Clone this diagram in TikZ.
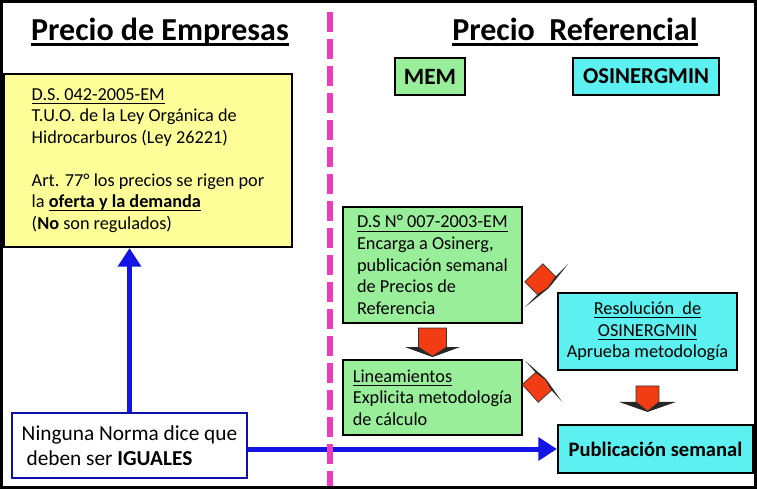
\documentclass[tikz,border=0pt]{standalone}
\usepackage{fontspec}
\setmainfont{Carlito}
\usetikzlibrary{arrows.meta,positioning,calc}
\definecolor{lawyellow}{HTML}{FFFF99}
\definecolor{memgreen}{HTML}{99EE99}
\definecolor{osicyan}{HTML}{5CF0F0}
\definecolor{arrowred}{HTML}{F23C14}
\definecolor{sepmagenta}{HTML}{EB3CBE}
\definecolor{normblue}{HTML}{1414E6}
\newcommand{\bodyfont}{\fontsize{13.7pt}{16.2pt}\selectfont}
\newcommand{\undl}[1]{\leavevmode\setbox0\hbox{#1}\rlap{\rule[-2.6pt]{\wd0}{0.7pt}}\box0}
\newcommand{\titleul}[1]{\leavevmode\setbox0\hbox{#1}\rlap{\rule[-4.8pt]{\wd0}{2.3pt}}\box0}

\begin{document}
\begin{tikzpicture}[
      x=0.75pt, y=-0.75pt,
      box/.style={draw=black, line width=1.6pt, font=\bodyfont, inner sep=0pt},
      lawbox/.style={box, fill=lawyellow, align=left},
      membox/.style={box, fill=memgreen},
      osibox/.style={box, fill=osicyan},
      titletext/.style={font=\fontsize{24pt}{28pt}\selectfont\bfseries, anchor=base},
      bluearrow/.style={draw=normblue, line width=3.75pt, -{Triangle[length=14pt,width=17pt]}},
      sepline/.style={draw=sepmagenta, line width=4.2pt, dash pattern=on 15pt off 5.25pt},
      shaftw/.store in=\shaftw, shaftl/.store in=\shaftl,
      headw/.store in=\headw, headh/.store in=\headh,
      shaftw=9.5pt, shaftl=13pt, headw=21pt, headh=7.5pt,
      redarrow/.pic={
        \fill[black!85] (-\headw,\headh) -- (\headw,\headh) -- (0pt,0pt) -- cycle;
        \filldraw[fill=arrowred, draw=black!80, line width=0.5pt]
          (-\shaftw,\headh+\shaftl) -- (\shaftw,\headh+\shaftl) -- (\shaftw,\headh)
          -- (0pt,0.6pt) -- (-\shaftw,\headh) -- cycle;
      }
  ]
  \useasboundingbox (0,0) rectangle (757,489);
  \draw[line width=2.2pt] (1.5,1.5) rectangle (755.5,487.5);

  % Titles
  \node[titletext] (empt) at (160,40) {\titleul{Precio de Empresas}};
  \node[titletext] (reft) at (575,40) {\titleul{Precio\ \ Referencial}};

  % Nodes
  \node[lawbox, minimum width=216pt, minimum height=129.75pt] (law) at (148,160.5)
    {\undl{D.S. 042-2005-EM}\\
     T.U.O. de la Ley Orgánica de\\
     Hidrocarburos (Ley 26221)\\[16pt]
     Art. 77° los precios se rigen por\\
     la \undl{\textbf{oferta y la demanda}}\\
     (\textbf{No} son regulados)};
  \node[membox, minimum width=52.5pt, minimum height=27.75pt,
        font=\fontsize{17.5pt}{20pt}\selectfont\bfseries] (mem) at (430,76.5) {MEM};
  \node[osibox, minimum width=109.5pt, minimum height=27.75pt,
        font=\fontsize{17pt}{20pt}\selectfont\bfseries] (osi) at (646,76.5) {OSINERGMIN};
  \node[membox, align=left, minimum width=134.25pt, minimum height=87pt] (ds) at (432.5,265)
    {\undl{D.S N° 007-2003-EM}\\
     Encarga a Osinerg,\\
     publicación semanal\\
     de Precios de\\
     Referencia};
  \node[membox, align=left, minimum width=134.25pt, minimum height=56.25pt,
        below=26.25pt of ds] (lin)
    {\undl{Lineamientos}\\
     Explicita metodología\\
     de cálculo};
  \node[osibox, align=center, minimum width=134.25pt, minimum height=57.75pt] (res) at (647.5,331.5)
    {\undl{Resolución\ \ de}\\
     \undl{OSINERGMIN}\\
     Aprueba metodología};
  \node[osibox, minimum width=146.25pt, minimum height=36pt,
        font=\fontsize{15.4pt}{18pt}\selectfont\bfseries] (pub) at (655.5,449) {Publicación semanal};
  \node[draw=normblue!75!black, line width=1.6pt, fill=white, inner sep=0pt, align=left,
        minimum width=176.25pt, minimum height=48.75pt,
        font=\fontsize{16pt}{18.75pt}\selectfont] (norma) at (129.5,445.5)
    {Ninguna Norma dice que\\
     \ deben ser \textbf{IGUALES}};

  % Arrows
  \draw[bluearrow] (norma.north) -- (norma.north |- law.south);
  \draw[bluearrow] (norma.east |- pub.west) -- (pub.west);

  \pic[shaftl=14.25pt, shaftw=10.5pt, headw=20.6pt] at ([yshift=1.5pt]lin.north) {redarrow};
  \pic[shaftl=12pt, shaftw=8.6pt, headw=21.4pt] at ($(res.south |- pub.north)+(0,-12)$) {redarrow};
  \pic[rotate=45, shaftl=13.5pt, shaftw=9.6pt, headw=23pt, headh=2.5pt]
    at ([shift={(-6pt,3pt)}]res.north west) {redarrow};
  \pic[rotate=132, shaftl=13.5pt, shaftw=9pt, headw=21pt, headh=2.5pt]
    at ([shift={(17.25pt,13.9pt)}]lin.east) {redarrow};

  % Separator
  \draw[sepline] (330,12) -- (330,486);

  \end{tikzpicture}
\end{document}
